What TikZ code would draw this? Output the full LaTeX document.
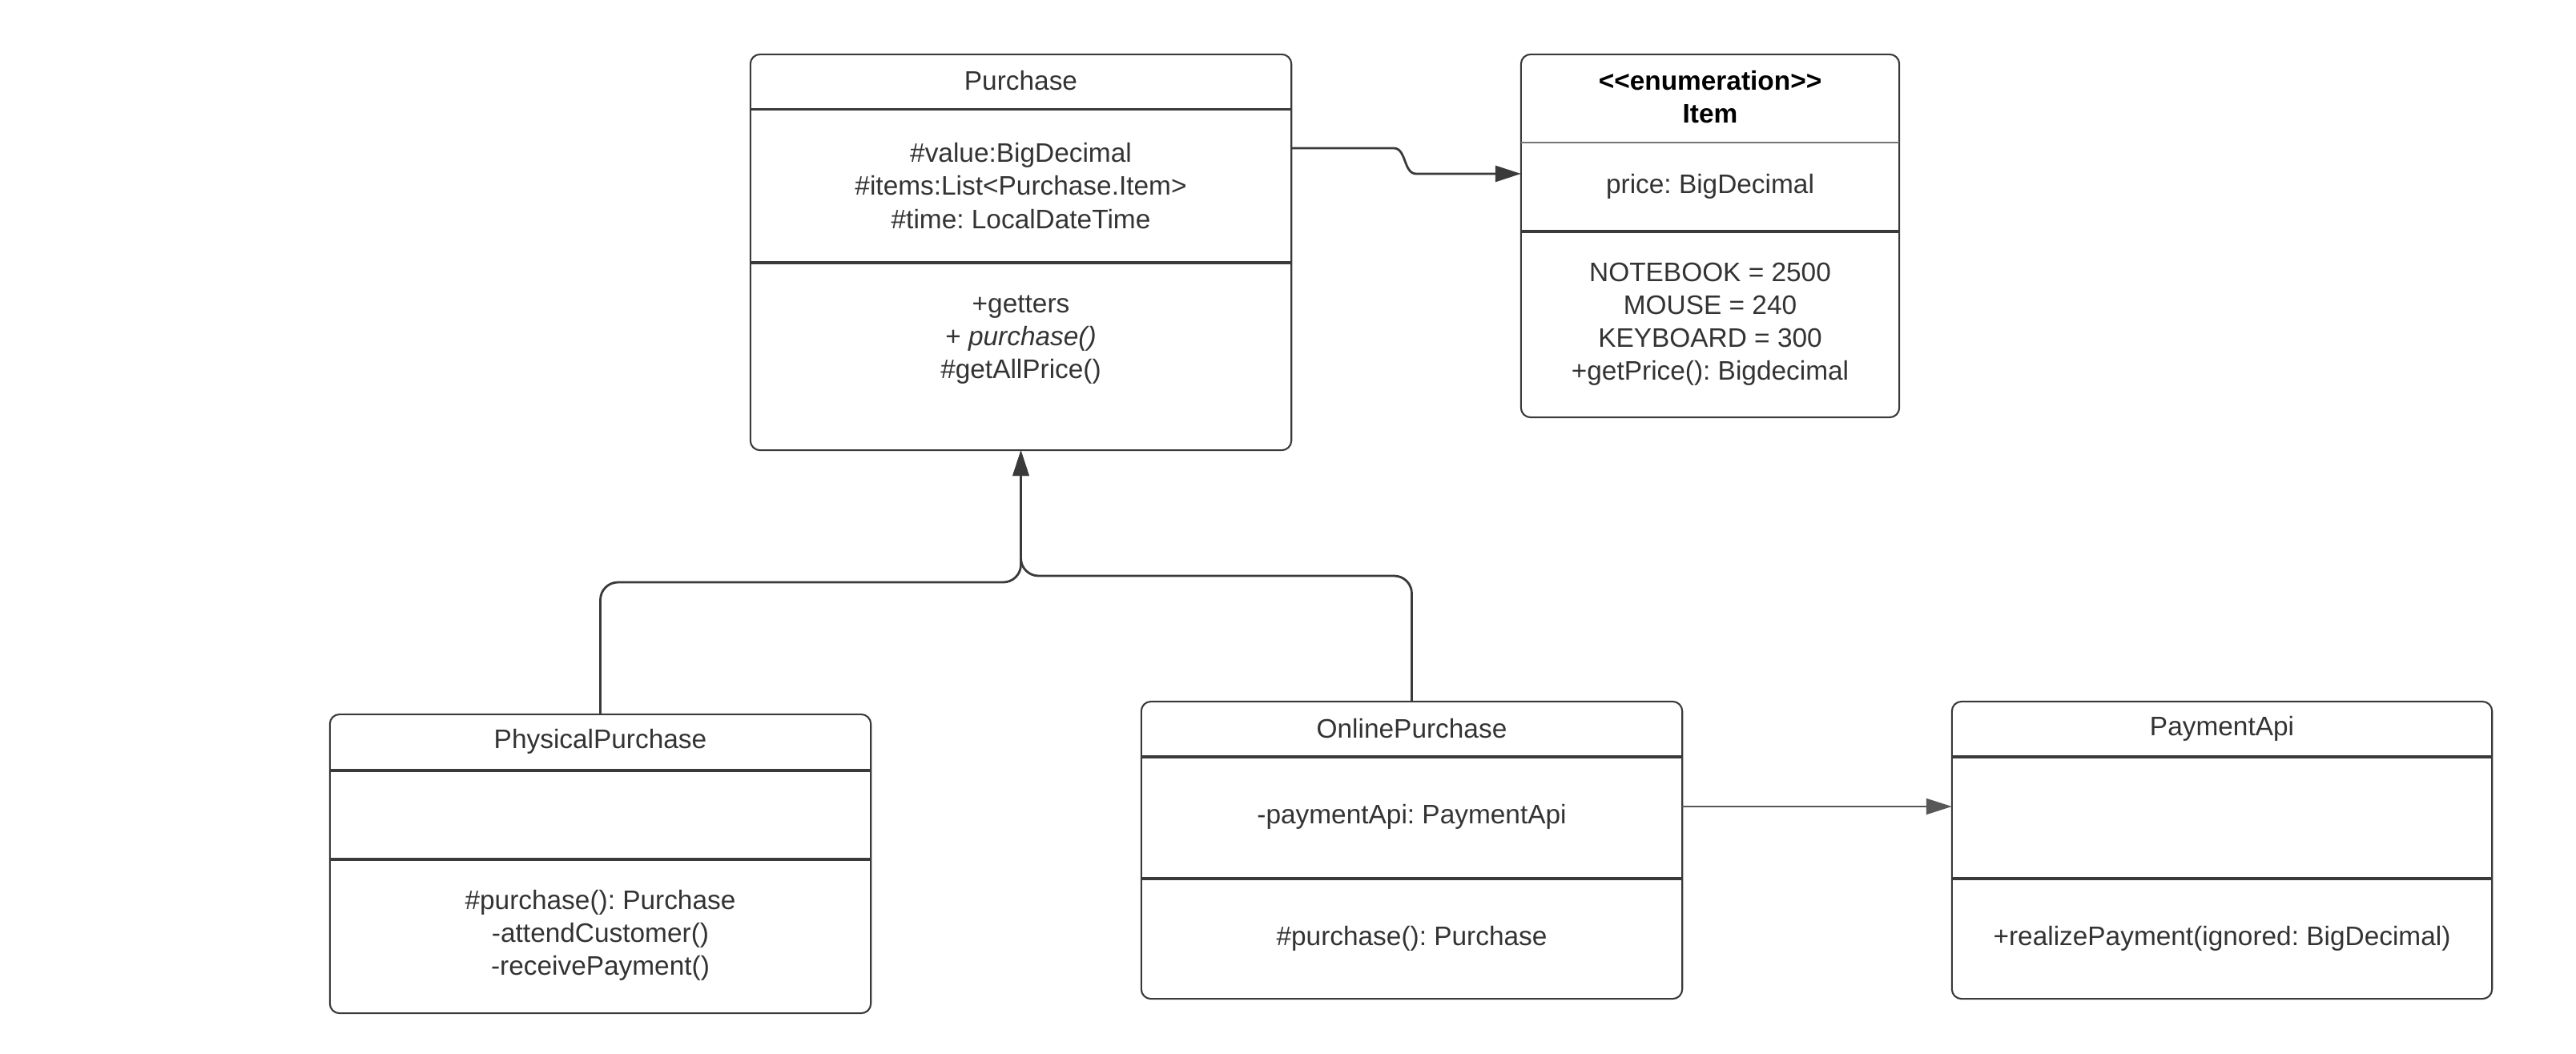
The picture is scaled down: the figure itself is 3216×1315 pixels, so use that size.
\documentclass[tikz,border=0pt]{standalone}
\usepackage{fontspec}
\setmainfont{Liberation Sans}
\usetikzlibrary{arrows.meta,positioning}
\frenchspacing

\definecolor{umlline}{HTML}{3A3A3A}
\definecolor{umltext}{HTML}{333333}

\tikzset{
    classbox/.style={draw=umlline, line width=0.6pt, rounded corners=1.2mm, inner sep=0pt, outer sep=0pt},
    divider/.style={draw=umlline, line width=0.9pt},
    member/.style={text=umltext, align=center, font=\fontsize{9.5}{11.7}\selectfont, inner sep=0pt},
    link/.style={draw=umlline, line width=0.8pt, -{Triangle[length=3.2mm,width=2mm]}},
}

\begin{document}
\begin{tikzpicture}[x=0.01cm, y=-0.01cm]
    \useasboundingbox (0,0) rectangle (3216,1315);

    % Purchase
    \node[classbox, minimum width=6.75cm, minimum height=4.94cm] (purchase) at (1274.5,315) {};
    \draw[divider] ([yshift=-0.69cm]purchase.north west) -- ([yshift=-0.69cm]purchase.north east);
    \draw[divider] ([yshift=-2.60cm]purchase.north west) -- ([yshift=-2.60cm]purchase.north east);
    \node[member] (purchaseName) at ([yshift=-0.33cm]purchase.north) {Purchase};
    \node[member] (purchaseAttr) at ([yshift=-1.64cm]purchase.north) {\#value:BigDecimal\\\#items:List<Purchase.Item>\\\#time: LocalDateTime};
    \node[member] (purchaseOps) at ([yshift=-3.56cm]purchase.north) {+getters\\+ \textit{purchase()}\\\#getAllPrice()};

    % Item
    \node[classbox, minimum width=4.72cm, minimum height=4.53cm] (item) at (2135,294.5) {};
    \draw[divider, line width=0.5pt, draw=umlline!70] ([yshift=-1.10cm]item.north west) -- ([yshift=-1.10cm]item.north east);
    \draw[divider] ([yshift=-2.21cm]item.north west) -- ([yshift=-2.21cm]item.north east);
    \node[member, text=black] (itemName) at ([yshift=-0.53cm]item.north) {\textbf{<{}<enumeration>{}>}\\\textbf{Item}};
    \node[member] (itemAttr) at ([yshift=-1.65cm]item.north) {price: BigDecimal};
    \node[member] (itemOps) at ([yshift=-3.37cm]item.north) {NOTEBOOK = 2500\\MOUSE = 240\\KEYBOARD = 300\\+getPrice(): Bigdecimal};

    % PhysicalPurchase
    \node[classbox, minimum width=6.75cm, minimum height=3.73cm] (phys) at (749.5,1078.5) {};
    \draw[divider] ([yshift=-0.70cm]phys.north west) -- ([yshift=-0.70cm]phys.north east);
    \draw[divider] ([yshift=-1.81cm]phys.north west) -- ([yshift=-1.81cm]phys.north east);
    \node[member] (physName) at ([yshift=-0.34cm]phys.north) {PhysicalPurchase};
    \node[member] (physOps) at ([yshift=-2.76cm]phys.north) {\#purchase(): Purchase\\-attendCustomer()\\-receivePayment()};

    % OnlinePurchase
    \node[classbox, minimum width=6.75cm, minimum height=3.71cm] (online) at (1762.5,1061.5) {};
    \draw[divider] ([yshift=-0.69cm]online.north west) -- ([yshift=-0.69cm]online.north east);
    \draw[divider] ([yshift=-2.21cm]online.north west) -- ([yshift=-2.21cm]online.north east);
    \node[member] (onlineName) at ([yshift=-0.34cm]online.north) {OnlinePurchase};
    \node[member] (onlineAttr) at ([yshift=-1.44cm]online.north) {-paymentApi: PaymentApi};
    \node[member] (onlineOps) at ([yshift=-2.96cm]online.north) {\#purchase(): Purchase};

    % PaymentApi
    \node[classbox, minimum width=6.74cm, minimum height=3.71cm] (pay) at (2774,1061.5) {};
    \draw[divider] ([yshift=-0.69cm]pay.north west) -- ([yshift=-0.69cm]pay.north east);
    \draw[divider] ([yshift=-2.21cm]pay.north west) -- ([yshift=-2.21cm]pay.north east);
    \node[member] (payName) at ([yshift=-0.34cm]pay.north) {PaymentApi};
    \node[member] (payOps) at ([yshift=-2.96cm]pay.north) {+realizePayment(ignored: BigDecimal)};

    % connectors
    \coordinate (bendTop) at (1740,185);
    \coordinate (bendLow) at (1768,217);
    \draw[link] ([yshift=1.3cm]purchase.east) -- (bendTop) .. controls +(16,0) and +(-16,0) .. (bendLow) -- ([yshift=0.775cm]item.west);

    \coordinate (joinPhys) at (1274.5,727);
    \coordinate (joinOnline) at (1274.5,719);
    \draw[link, rounded corners=2.2mm] (phys.north) |- (joinPhys) -- (purchase.south);
    \draw[link, rounded corners=2.2mm] (online.north) |- (joinOnline) -- (purchase.south);

    \draw[link, line width=0.5pt, draw=umlline!85] ([yshift=0.545cm]online.east) -- ([yshift=0.545cm]pay.west);
\end{tikzpicture}
\end{document}
